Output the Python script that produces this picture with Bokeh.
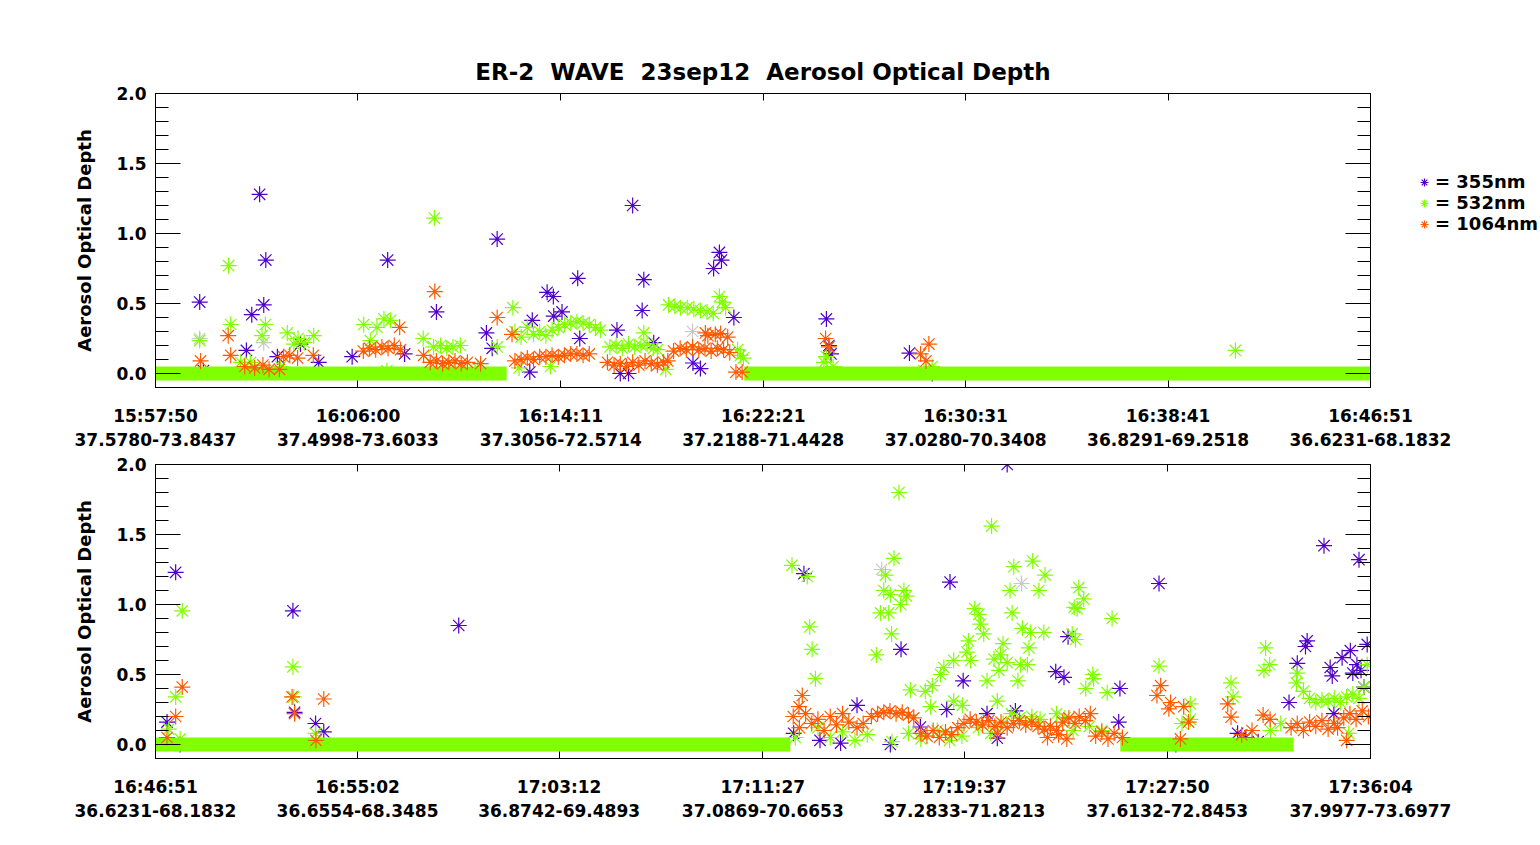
from bokeh.plotting import figure
from bokeh.models import Range1d, FixedTicker, LinearAxis, Legend, LegendItem
from bokeh.layouts import column, row
from bokeh.embed import file_html
from bokeh.resources import INLINE

FONT = "DejaVu Sans"
C355 = "#5000C8"
C532 = "#80FF00"
C1064 = "#FF5A00"
CGRAY = "#C8C8C8"

# ---------------- data (x = seconds since panel start, y = AOD) ----------------
# upper panel, 15:57:50 - 16:46:51
top_tick_t = [0, 490, 981, 1471, 1961, 2451, 2941]
top_tick_time = ["15:57:50", "16:06:00", "16:14:11", "16:22:21", "16:30:31", "16:38:41", "16:46:51"]
top_tick_pos = ["37.5780-73.8437", "37.4998-73.6033", "37.3056-72.5714", "37.2188-71.4428",
                "37.0280-70.3408", "36.8291-69.2518", "36.6231-68.1832"]

top_t355 = [107, 116, 220, 233, 252, 262, 267, 295, 351, 395, 476, 562, 603, 680, 801, 815, 827,
            906, 912, 948, 963, 964, 984, 1022, 1027, 1117, 1125, 1145, 1155, 1178, 1182, 1206,
            1301, 1319, 1351, 1365, 1370, 1400, 1624, 1630, 1635, 1825, 1880]
top_v355 = [0.51, 0.02, 0.165, 0.42, 1.28, 0.49, 0.81, 0.12, 0.21, 0.08, 0.12, 0.81, 0.14, 0.44, 0.29,
            0.18, 0.96, 0.01, 0.38, 0.58, 0.55, 0.41, 0.44, 0.68, 0.25, 0.31, 0.0, 0.0, 1.20, 0.45,
            0.67, 0.22, 0.075, 0.035, 0.75, 0.865, 0.81, 0.40, 0.39, 0.20, 0.14, 0.146, 0.0]

top_t532 = [107, 177, 182, 206, 230, 258, 266, 303, 319, 335, 345, 360, 383, 504, 520, 536, 553, 569,
            560, 648, 673, 675, 690, 705, 710, 720, 738, 780, 827, 865, 870, 880, 885, 900, 915, 930,
            945, 956, 960, 975, 990, 1005, 1020, 1035, 1050, 1065, 1077, 1100, 1115, 1130, 1145, 1160,
            1175, 1182, 1190, 1205, 1215, 1235, 1242, 1257, 1271, 1287, 1303, 1319, 1335, 1350, 1365,
            1372, 1380, 1409, 1416, 1423, 1618, 1624, 1640, 1860, 1880, 2614]
top_v532 = [0.235, 0.77, 0.35, 0.08, 0.08, 0.27, 0.35, 0.05, 0.29, 0.21, 0.25, 0.22, 0.27, 0.35, 0.235,
            0.33, 0.39, 0.38, 0.02, 0.25, 0.19, 1.11, 0.20, 0.18, 0.02, 0.19, 0.20, 0.04, 0.19, 0.47,
            0.30, 0.04, 0.26, 0.33, 0.28, 0.30, 0.27, 0.05, 0.31, 0.33, 0.35, 0.36, 0.37, 0.36, 0.35,
            0.33, 0.31, 0.19, 0.20, 0.18, 0.21, 0.19, 0.20, 0.29, 0.21, 0.18, 0.17, 0.03, 0.49, 0.48,
            0.47, 0.47, 0.46, 0.45, 0.44, 0.43, 0.55, 0.51, 0.47, 0.17, 0.13, 0.11, 0.08, 0.12, 0.05,
            0.02, 0.05, 0.165]

top_t1064 = [109, 176, 182, 216, 240, 260, 275, 300, 310, 325, 344, 382, 503, 518, 533, 548, 563, 578,
             591, 593, 649, 665, 676, 680, 695, 710, 725, 740, 755, 787, 827, 863, 870, 885, 900, 915,
             930, 945, 960, 975, 990, 1005, 1020, 1035, 1050, 1094, 1110, 1125, 1140, 1155, 1170,
             1185, 1200, 1215, 1230, 1240, 1254, 1270, 1285, 1300, 1315, 1330, 1331, 1337, 1345, 1355,
             1360, 1368, 1375, 1385, 1390, 1405, 1420, 1622, 1630, 1852, 1865, 1872]
top_v1064 = [0.09, 0.27, 0.13, 0.05, 0.04, 0.06, 0.03, 0.03, 0.12, 0.13, 0.11, 0.13, 0.16, 0.18, 0.17,
             0.19, 0.18, 0.20, 0.33, 0.17, 0.13, 0.08, 0.585, 0.09, 0.07, 0.08, 0.09, 0.07, 0.08, 0.07,
             0.40, 0.28, 0.09, 0.10, 0.11, 0.10, 0.12, 0.12, 0.13, 0.12, 0.13, 0.14, 0.14, 0.13, 0.14,
             0.08, 0.06, 0.07, 0.05, 0.08, 0.06, 0.09, 0.07, 0.06, 0.08, 0.09, 0.16, 0.18, 0.17, 0.19,
             0.17, 0.18, 0.29, 0.27, 0.16, 0.28, 0.18, 0.285, 0.17, 0.26, 0.15, 0.01, 0.01, 0.25, 0.19,
             0.14, 0.09, 0.21]

top_tgray = [107, 262, 1300]
top_vgray = [0.25, 0.22, 0.30]

# stretches where the retrieval sits at zero
top_zero_start = [0, 1425]
top_zero_end = [850, 2941]

# lower panel, 16:46:51 - 17:36:04
bot_tick_t = [0, 491, 981, 1476, 1966, 2459, 2953]
bot_tick_time = ["16:46:51", "16:55:02", "17:03:12", "17:11:27", "17:19:37", "17:27:50", "17:36:04"]
bot_tick_pos = ["36.6231-68.1832", "36.6554-68.3485", "36.8742-69.4893", "37.0869-70.6653",
                "37.2833-71.8213", "37.6132-72.8453", "37.9977-73.6977"]

bot_t355 = [28, 49, 60, 334, 338, 389, 409, 737, 1551, 1576, 1615, 1665, 1705, 1786, 1812, 1859,
            1923, 1931, 1963, 2021, 2046, 2070, 2090, 2188, 2208, 2218, 2341, 2344, 2439, 2480, 2630,
            2650, 2680, 2755, 2775, 2795, 2799, 2840, 2855, 2860, 2864, 2884, 2904, 2910, 2920, 2925,
            2930, 2937, 2945]
bot_v355 = [0.16, 1.23, 0.0, 0.955, 0.23, 0.15, 0.09, 0.85, 0.08, 1.22, 0.03, 0.01, 0.28, 0.0, 0.68,
            0.125, 0.25, 1.16, 0.455, 0.22, 0.045, 2.0, 0.24, 0.52, 0.48, 0.77, 0.16, 0.40, 1.15, 0.0,
            0.08, 0.05, 0.02, 0.30, 0.58, 0.70, 0.74, 1.42, 0.55, 0.49, 0.22, 0.62, 0.67, 0.51, 0.57,
            1.32, 0.53, 0.41, 0.715]

bot_t532 = [32, 49, 60, 65, 334, 336, 389, 1547, 1555, 1584, 1590, 1596, 1604, 1610, 1640, 1670, 1700,
            1730, 1752, 1762, 1770, 1774, 1782, 1786, 1789, 1790, 1795, 1807, 1811, 1819, 1825, 1830,
            1835, 1860, 1871, 1884, 1888, 1900, 1908, 1916, 1930, 1940, 1940, 1960, 1961, 1972, 1976,
            1981, 1991, 2000, 2001, 2005, 2013, 2021, 2030, 2032, 2038, 2046, 2050, 2054, 2060, 2060,
            2070, 2077, 2080, 2082, 2086, 2096, 2100, 2102, 2107, 2119, 2123, 2127, 2130, 2132, 2147,
            2150, 2159, 2162, 2190, 2210, 2228, 2230, 2233, 2236, 2240, 2244, 2256, 2261, 2270, 2278,
            2280, 2300, 2313, 2325, 2439, 2495, 2515, 2515, 2614, 2619, 2694, 2698, 2708, 2710, 2735,
            2773, 2775, 2790, 2805, 2820, 2835, 2850, 2865, 2880, 2895, 2900, 2910, 2925, 2937, 2945]
bot_v532 = [0.11, 0.34, 0.04, 0.955, 0.555, 0.34, 0.08, 1.28, 0.05, 1.20, 0.84, 0.68, 0.47, 0.12, 0.05,
            0.09, 0.03, 0.07, 0.64, 0.94, 1.10, 1.21, 0.94, 1.07, 0.79, 0.02, 1.33, 1.80, 1.00, 1.10,
            1.06, 0.08, 0.39, 0.04, 0.38, 0.27, 0.42, 0.10, 0.50, 0.55, 0.03, 0.60, 0.31, 0.06, 0.28,
            0.66, 0.74, 0.60, 0.97, 0.12, 0.93, 0.86, 0.79, 0.455, 0.08, 1.56, 0.61, 0.31, 0.53, 0.64,
            0.72, 0.15, 0.585, 1.10, 0.22, 0.94, 1.27, 0.455, 0.19, 0.57, 0.83, 0.57, 0.69, 0.80, 0.20,
            1.31, 1.10, 0.18, 0.80, 1.21, 0.22, 0.19, 0.79, 0.10, 0.98, 0.75, 0.97, 1.12, 1.04, 0.40,
            0.13, 0.50, 0.47, 0.10, 0.37, 0.90, 0.56, 0.15, 0.29, 0.18, 0.44, 0.34, 0.53, 0.69, 0.57,
            0.10, 0.15, 0.44, 0.51, 0.38, 0.33, 0.30, 0.32, 0.31, 0.33, 0.30, 0.34, 0.08, 0.36, 0.33,
            0.41, 0.57]

bot_t1064 = [28, 49, 65, 332, 338, 390, 409, 1550, 1564, 1565, 1572, 1580, 1595, 1610, 1625, 1640, 1655,
             1670, 1685, 1705, 1720, 1740, 1755, 1770, 1785, 1800, 1815, 1830, 1843, 1860, 1875, 1890,
             1905, 1920, 1935, 1950, 1965, 1980, 1995, 2010, 2025, 2040, 2046, 2055, 2070, 2085, 2100,
             2115, 2130, 2145, 2160, 2168, 2175, 2190, 2195, 2205, 2215, 2220, 2235, 2245, 2260, 2272,
             2285, 2300, 2315, 2330, 2350, 2434, 2443, 2463, 2467, 2491, 2499, 2511, 2606, 2614, 2640,
             2665, 2692, 2709, 2760, 2775, 2790, 2805, 2820, 2835, 2850, 2865, 2873, 2888, 2895, 2903,
             2918, 2933, 2948]
bot_v1064 = [0.05, 0.20, 0.41, 0.34, 0.22, 0.03, 0.325, 0.20, 0.27, 0.12, 0.35, 0.22, 0.15, 0.18, 0.10,
             0.20, 0.14, 0.22, 0.16, 0.12, 0.15, 0.20, 0.22, 0.23, 0.24, 0.22, 0.23, 0.21, 0.19, 0.08,
             0.06, 0.10, 0.05, 0.09, 0.07, 0.12, 0.15, 0.18, 0.16, 0.14, 0.17, 0.13, 0.08, 0.16, 0.12,
             0.15, 0.17, 0.14, 0.16, 0.13, 0.11, 0.05, 0.13, 0.10, 0.07, 0.16, 0.04, 0.19, 0.15, 0.20,
             0.17, 0.22, 0.06, 0.09, 0.04, 0.08, 0.05, 0.35, 0.42, 0.255, 0.30, 0.04, 0.27, 0.16, 0.29,
             0.195, 0.07, 0.10, 0.21, 0.18, 0.12, 0.15, 0.10, 0.16, 0.13, 0.17, 0.11, 0.15, 0.12, 0.19,
             0.03, 0.22, 0.18, 0.24, 0.20]

bot_tgray = [1765, 2105]
bot_vgray = [1.25, 1.15]

bot_zero_start = [0, 2345]
bot_zero_end = [1543, 2766]

y_major = [0.0, 0.5, 1.0, 1.5, 2.0]
y_minor = [0.1, 0.2, 0.3, 0.4, 0.6, 0.7, 0.8, 0.9, 1.1, 1.2, 1.3, 1.4, 1.6, 1.7, 1.8, 1.9]

legend_labels = ["= 355nm", "= 532nm", "= 1064nm"]


def style_text(ax, size="17px"):
    ax.major_label_text_font = FONT
    ax.major_label_text_font_style = "bold"
    ax.major_label_text_font_size = size
    ax.major_label_text_color = "black"


def hide_labels(ax):
    ax.major_label_text_color = None
    ax.major_label_text_font_size = "1px"
    ax.major_label_standoff = 0


def make_panel(t_end, ticks, times, places, t355, v355, t532, v532, t1064, v1064,
               tgray, vgray, z0, z1, height, border_top, border_bottom, title=None):
    p = figure(width=1540, height=height, x_range=Range1d(0, t_end), y_range=Range1d(-0.1, 2.0),
               x_axis_location=None, y_axis_location=None, output_backend="svg",
               toolbar_location=None, min_border_left=155, min_border_right=170,
               min_border_top=border_top, min_border_bottom=border_bottom)
    p.xgrid.visible = False
    p.ygrid.visible = False
    p.outline_line_color = "black"
    p.outline_line_width = 1
    p.background_fill_color = "white"
    p.border_fill_color = "white"

    if title:
        p.title.text = title
        p.title.align = "center"
        p.title.text_font = FONT
        p.title.text_font_style = "bold"
        p.title.text_font_size = "23px"
        p.title.text_color = "black"
        p.title.standoff = 18

    xt = FixedTicker(ticks=ticks, minor_ticks=[])
    yt = FixedTicker(ticks=y_major, minor_ticks=y_minor)

    # time labels
    xa = LinearAxis(ticker=xt, major_label_overrides=dict(zip(ticks, times)))
    xa.major_tick_in = 7
    xa.major_tick_out = 0
    xa.minor_tick_line_color = None
    xa.major_label_standoff = 18
    style_text(xa)
    p.add_layout(xa, "below")

    # lat-lon labels, second row
    xb = LinearAxis(ticker=xt, major_label_overrides=dict(zip(ticks, places)))
    xb.axis_line_color = None
    xb.major_tick_line_color = None
    xb.minor_tick_line_color = None
    xb.major_label_standoff = -2
    style_text(xb)
    p.add_layout(xb, "below")

    xtop = LinearAxis(ticker=xt)
    xtop.major_tick_in = 7
    xtop.major_tick_out = 0
    xtop.minor_tick_line_color = None
    hide_labels(xtop)
    p.add_layout(xtop, "above")

    ya = LinearAxis(ticker=yt, axis_label="Aerosol Optical Depth")
    ya.major_label_overrides = {v: "%.1f" % v for v in y_major}
    ya.major_tick_in = 25
    ya.major_tick_out = 0
    ya.minor_tick_in = 13
    ya.minor_tick_out = 0
    ya.major_label_standoff = 9
    ya.axis_label_standoff = 18
    ya.axis_label_text_font = FONT
    ya.axis_label_text_font_style = "bold"
    ya.axis_label_text_font_size = "18px"
    ya.axis_label_text_color = "black"
    style_text(ya)
    p.add_layout(ya, "left")

    yr = LinearAxis(ticker=yt)
    yr.major_tick_in = 25
    yr.major_tick_out = 0
    yr.minor_tick_in = 13
    yr.minor_tick_out = 0
    hide_labels(yr)
    p.add_layout(yr, "right")

    p.scatter(tgray, vgray, marker="asterisk", size=16, line_color=CGRAY, line_width=1.2)
    p.scatter(t355, v355, marker="asterisk", size=16, line_color=C355, line_width=1.2)
    p.segment(x0=z0, y0=[0.0] * len(z0), x1=z1, y1=[0.0] * len(z1),
              line_color=C532, line_width=14, line_cap="butt")
    p.scatter(t532, v532, marker="asterisk", size=16, line_color=C532, line_width=1.2)
    p.scatter(t1064, v1064, marker="asterisk", size=16, line_color=C1064, line_width=1.2)
    return p


top = make_panel(top_tick_t[-1], top_tick_t, top_tick_time, top_tick_pos,
                 top_t355, top_v355, top_t532, top_v532, top_t1064, top_v1064,
                 top_tgray, top_vgray, top_zero_start, top_zero_end,
                 height=450, border_top=93, border_bottom=63,
                 title="ER-2 \u00a0WAVE \u00a023sep12 \u00a0Aerosol Optical Depth")

# key, laid over the right margin of the upper panel
key = figure(width=170, height=450, x_range=Range1d(0, 1), y_range=Range1d(0, 1),
             x_axis_location=None, y_axis_location=None, output_backend="svg",
             toolbar_location=None, min_border=0)
key.xgrid.visible = False
key.ygrid.visible = False
key.outline_line_color = None
key.background_fill_color = None
key.border_fill_color = None
key.margin = (0, 0, 0, -170)
items = []
for lab, col in zip(legend_labels, [C355, C532, C1064]):
    # sample point kept outside the key's range, only its legend swatch shows
    r = key.scatter([-1], [-1], marker="asterisk", size=16, line_color=col, line_width=1.2)
    items.append(LegendItem(label=lab, renderers=[r]))
legend = Legend(items=items, location=(43, 153), orientation="vertical")
legend.background_fill_color = None
legend.border_line_color = None
legend.padding = 0
legend.margin = 0
legend.spacing = 0
legend.glyph_width = 22
legend.glyph_height = 20
legend.label_height = 12
legend.label_standoff = 0
legend.label_text_font = FONT
legend.label_text_font_style = "bold"
legend.label_text_font_size = "18px"
legend.label_text_color = "black"
key.add_layout(legend)

bottom = make_panel(bot_tick_t[-1], bot_tick_t, bot_tick_time, bot_tick_pos,
                    bot_t355, bot_v355, bot_t532, bot_v532, bot_t1064, bot_v1064,
                    bot_tgray, bot_vgray, bot_zero_start, bot_zero_end,
                    height=380, border_top=14, border_bottom=72)

layout = column(row(top, key, spacing=0), bottom, spacing=0)
open("out.html", "w").write(file_html(layout, INLINE))
